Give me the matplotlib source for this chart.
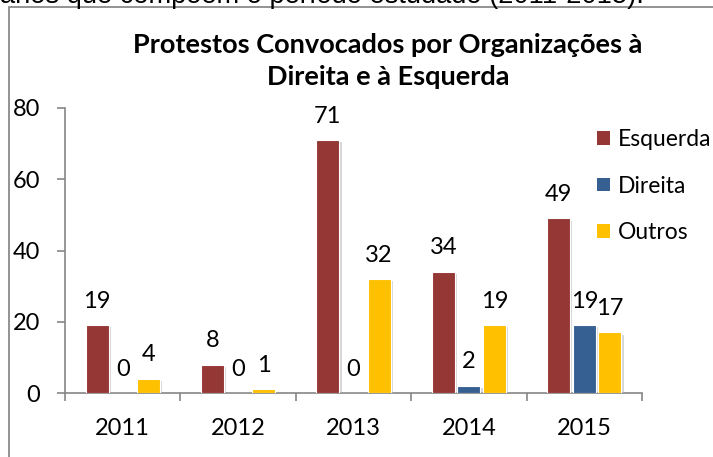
import matplotlib.pyplot as plt
import matplotlib.patheffects as pe
from matplotlib.patches import Rectangle
import numpy as np

plt.rcParams['font.family'] = ['Lato', 'DejaVu Sans']

years = ['2011', '2012', '2013', '2014', '2015']
esquerda = [19, 8, 71, 34, 49]
direita = [0, 0, 0, 2, 19]
outros = [4, 1, 32, 19, 17]

series = [
    ('Esquerda', esquerda, '#953735'),
    ('Direita', direita, '#376092'),
    ('Outros', outros, '#FFC000'),
]

W, H = 713, 457
fig = plt.figure(figsize=(W / 100, H / 100), dpi=100)

# page text cut off above the chart frame
fig.text(0.0, 1.0 - 3 / H, 'anos que compõem o período estudado (2011-2015).',
         fontsize=19.6, va='baseline', ha='left', color='black',
         family=['Liberation Sans', 'DejaVu Sans'])

# chart frame (runs off the right and bottom of the crop)
top = 1 - 7 / H
fig.patches.append(Rectangle((9 / W, -0.1), 1.2, top + 0.1,
                             transform=fig.transFigure, fill=False,
                             edgecolor='#8a8a8a', linewidth=1.3))

fig.text(388 / W, 1 - 61 / H, 'Protestos Convocados por Organizações à\nDireita e à Esquerda',
         fontsize=19.5, fontweight='bold', ha='center', va='center', linespacing=1.4)

ax = fig.add_axes([65 / W, (H - 393) / H, 577 / W, 285 / H])

x = np.arange(len(years))
offsets = [-0.222, 0.0, 0.222]
shadow = [pe.SimplePatchShadow(offset=(1.5, -1.5), shadow_rgbFace='#b0b0b0', alpha=0.5), pe.Normal()]
handles = []
for (name, vals, color), off in zip(series, offsets):
    bars = ax.bar(x + off, vals, width=0.2, color=color, edgecolor='white',
                  linewidth=0.8, label=name, zorder=3)
    for b in bars:
        b.set_path_effects(shadow)
    handles.append(bars)
    for xi, v in zip(x + off, vals):
        ax.annotate(str(v), (xi, v), xytext=(0, 24), textcoords='offset pixels',
                    ha='center', va='center', fontsize=17)

ax.set_xlim(-0.5, len(years) - 0.5)
ax.set_ylim(0, 80)
ax.set_yticks([0, 20, 40, 60, 80])
ax.tick_params(axis='y', direction='out', length=6, width=1.2, color='#868686',
               labelsize=17, pad=12)

ax.set_xticks(x)
ax.set_xticklabels(years)
ax.set_xticks(np.arange(-0.5, len(years)), minor=True)
ax.tick_params(axis='x', which='major', length=0, labelsize=17, pad=18)
ax.tick_params(axis='x', which='minor', direction='out', length=6, width=1.2, color='#868686')

for s in ['top', 'right']:
    ax.spines[s].set_visible(False)
for s in ['left', 'bottom']:
    ax.spines[s].set_color('#868686')
    ax.spines[s].set_linewidth(1.2)

leg = fig.legend(handles=handles, loc='upper left', bbox_to_anchor=(586 / W, 1 - 118 / H),
                 frameon=False, fontsize=16.5, handlelength=0.55, handleheight=0.55,
                 handletextpad=0.35, labelspacing=1.1, borderpad=0)
for h in leg.legend_handles:
    h.set_path_effects([])
    h.set_edgecolor('none')

fig.savefig('out.png', dpi=100)
